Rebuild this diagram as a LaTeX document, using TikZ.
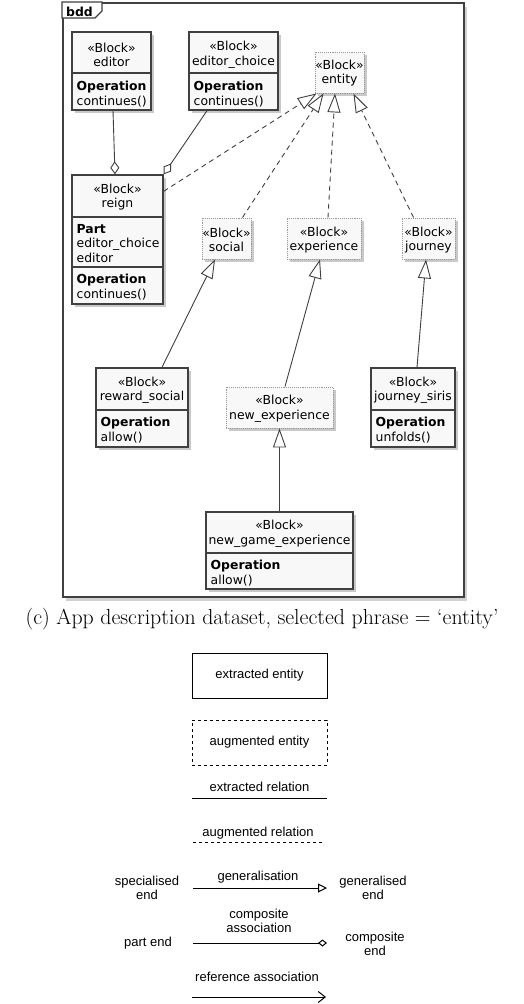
\documentclass[tikz,border=0pt]{standalone}
\usepackage{fontspec}
\usetikzlibrary{arrows.meta,shadows,calc}
\newfontfamily\blkfont{DejaVu Sans}
\newfontfamily\lgfont{Liberation Sans}
\definecolor{bcol}{HTML}{404040}
\definecolor{bfill}{HTML}{F8F8F8}
\definecolor{acol}{HTML}{999999}
\begin{document}
\begin{tikzpicture}[x=1pt,y=-1pt,
  shd/.style={drop shadow={shadow xshift=3pt,shadow yshift=-3pt,opacity=0.35,fill=black!60}},
  blk/.style={rectangle,draw=bcol,line width=1.4pt,fill=bfill,inner sep=0pt,shd},
  ablk/.style={rectangle,draw=acol,line width=0.9pt,densely dotted,fill=bfill,inner sep=0pt,shd},
  bt/.style={font=\blkfont\fontsize{12.4}{14.5}\selectfont,inner sep=0pt,text=black},
  hd/.style={bt,align=center},
  cp/.style={bt,align=left,anchor=north west},
  dv/.style={draw=bcol,line width=1.4pt},
  rel/.style={draw=bcol,line width=0.9pt},
  gen/.style={rel,-{Triangle[open,fill=white,length=19pt,width=13pt]}},
  agen/.style={gen,dash pattern=on 5pt off 4pt},
  comp/.style={rel,-{Diamond[open,fill=white,length=13pt,width=9pt]}},
  lg/.style={font=\lgfont\fontsize{13}{14.5}\selectfont,inner sep=0pt,align=center},
  lgl/.style={draw=black,line width=1pt},
]
\useasboundingbox (0,0) rectangle (524,1004);
% frame
\node[rectangle,draw=bcol,line width=2pt,fill=white,minimum width=401pt,minimum height=594pt,inner sep=0pt,
  drop shadow={shadow xshift=3pt,shadow yshift=-4pt,opacity=0.3,fill=black!60}] (frame) at (263.5,300) {};
\draw[draw=bcol,line width=1.2pt,fill=white] (frame.north west) -- ++(40,0) -- ++(0,9) -- ++(-7,7) -- ++(-33,0) -- cycle;
\node[font=\blkfont\bfseries\fontsize{12.4}{14}\selectfont,anchor=west,inner sep=0pt] (bddlbl) at (66,11.5) {bdd};

% editor
\node[blk,minimum width=79pt,minimum height=78pt] (editor) at (111.5,71) {};
\draw[dv] (72,73) -- (151,73);
\node[hd] (editorH) at (111.5,55) {«Block»\\editor};
\node[cp] (editorC) at (76.5,81) {\textbf{Operation}\\continues()};
% editor_choice
\node[blk,minimum width=89pt,minimum height=78pt] (choice) at (233.5,71) {};
\draw[dv] (189,73) -- (278,73);
\node[hd] (choiceH) at (233.5,55) {«Block»\\editor\_choice};
\node[cp] (choiceC) at (193.5,81) {\textbf{Operation}\\continues()};
% entity
\node[ablk,minimum width=49pt,minimum height=41pt] (entity) at (339.5,72.5) {};
\node[hd] (entityH) at (339.5,73) {«Block»\\entity};
% reign
\node[blk,minimum width=91pt,minimum height=129pt] (reign) at (117.5,239.5) {};
\draw[dv] (72,217) -- (163,217);
\draw[dv] (72,267) -- (163,267);
\node[hd] (reignH) at (117.5,197) {«Block»\\reign};
\node[cp] (reignP) at (76.5,224) {\textbf{Part}\\editor\_choice\\editor};
\node[cp] (reignO) at (76.5,274) {\textbf{Operation}\\continues()};
% social, experience, journey
\node[ablk,minimum width=49pt,minimum height=41pt] (social) at (226.5,238.5) {};
\node[hd] (socialH) at (226.5,240) {«Block»\\social};
\node[ablk,minimum width=74pt,minimum height=41pt] (exper) at (324,238.5) {};
\node[hd] (experH) at (324,240) {«Block»\\experience};
\node[ablk,minimum width=53pt,minimum height=41pt] (journey) at (428.5,238.5) {};
\node[hd] (journeyH) at (428.5,240) {«Block»\\journey};
% reward_social
\node[blk,minimum width=92pt,minimum height=79pt] (reward) at (142,407.5) {};
\draw[dv] (96,410) -- (188,410);
\node[hd] (rewardH) at (142,390) {«Block»\\reward\_social};
\node[cp] (rewardC) at (100.5,417) {\textbf{Operation}\\allow()};
% new_experience
\node[ablk,minimum width=107pt,minimum height=41pt] (newexp) at (279.5,407.5) {};
\node[hd] (newexpH) at (279.5,408.5) {«Block»\\new\_experience};
% journey_siris
\node[blk,minimum width=84pt,minimum height=79pt] (siris) at (413,407.5) {};
\draw[dv] (371,410) -- (455,410);
\node[hd] (sirisH) at (413,390) {«Block»\\journey\_siris};
\node[cp] (sirisC) at (375.5,417) {\textbf{Operation}\\unfolds()};
% new_game_experience
\node[blk,minimum width=147pt,minimum height=77pt] (newgame) at (279.5,550.5) {};
\draw[dv] (206,553) -- (353,553);
\node[hd] (newgameH) at (279.5,533.5) {«Block»\\new\_game\_experience};
\node[cp] (newgameC) at (210.5,560) {\textbf{Operation}\\allow()};

% connectors
\draw[comp] ([xshift=1.5pt]editor.south) -- ([xshift=-2.5pt]reign.north);
\draw[comp] ([xshift=-26.5pt]choice.south) -- (reign.north east);
\draw[agen] ([yshift=-17pt]reign.north east) -- ([xshift=2pt]entity.south west);
\draw[agen] ([xshift=-9pt]social.north east) -- ([xshift=9pt]entity.south west);
\draw[agen] ([xshift=4pt]exper.north) -- ([xshift=-4.5pt]entity.south);
\draw[agen] ([xshift=12pt]journey.north west) -- ([xshift=-11pt]entity.south east);
\draw[gen] ([xshift=20pt]reward.north) -- ([xshift=-11.5pt]social.south);
\draw[gen] ([xshift=5.5pt]newexp.north) -- ([xshift=-4pt]exper.south);
\draw[gen] ([xshift=4pt]siris.north) -- ([xshift=-2.5pt]journey.south);
\draw[gen] (newgame.north) -- (newexp.south);

% caption
\node[font=\fontsize{21.8}{26}\selectfont,inner sep=0pt] (caption) at (262,619) {(c) App description dataset, selected phrase = ‘entity’};

% legend
\node[lg,draw=black,line width=1pt,minimum width=135pt,minimum height=45pt] (lgext) at (259.5,675.5) {extracted entity};
\node[lg,draw=black,line width=1pt,dashed,minimum width=135pt,minimum height=45pt] (lgaug) at (259.5,742.5) {augmented entity};
\node[lg] (lgexr) at (259.5,787) {extracted relation};
\coordinate (e1) at (192,798); \coordinate (e2) at (327,798);
\draw[lgl] (e1) -- (e2);
\node[lg] (lgaur) at (258,833) {augmented relation};
\coordinate (a1) at (193,842); \coordinate (a2) at (323,842);
\draw[lgl,dashed] (a1) -- (a2);
\node[lg] (lgspec) at (147,888) {specialised\\end};
\node[lg] (lggen) at (258,877) {generalisation};
\node[lg] (lggend) at (373,888) {generalised\\end};
\coordinate (g1) at (193,888); \coordinate (g2) at (327,888);
\draw[lgl,-{Triangle[open,fill=white,length=9pt,width=9pt]}] (g1) -- (g2);
\node[lg] (lgcomp) at (259,921) {composite\\association};
\node[lg] (lgpart) at (148,943) {part end};
\node[lg] (lgcend) at (375,944) {composite\\end};
\coordinate (c1) at (193,943); \coordinate (c2) at (327,943);
\draw[lgl,-{Diamond[open,fill=white,length=9pt,width=7pt]}] (c1) -- (c2);
\node[lg] (lgref) at (257,977) {reference association};
\coordinate (r1) at (192,997); \coordinate (r2) at (326,997);
\draw[lgl,-{Straight Barb[length=7pt,width=11pt]}] (r1) -- (r2);
\end{tikzpicture}
\end{document}
